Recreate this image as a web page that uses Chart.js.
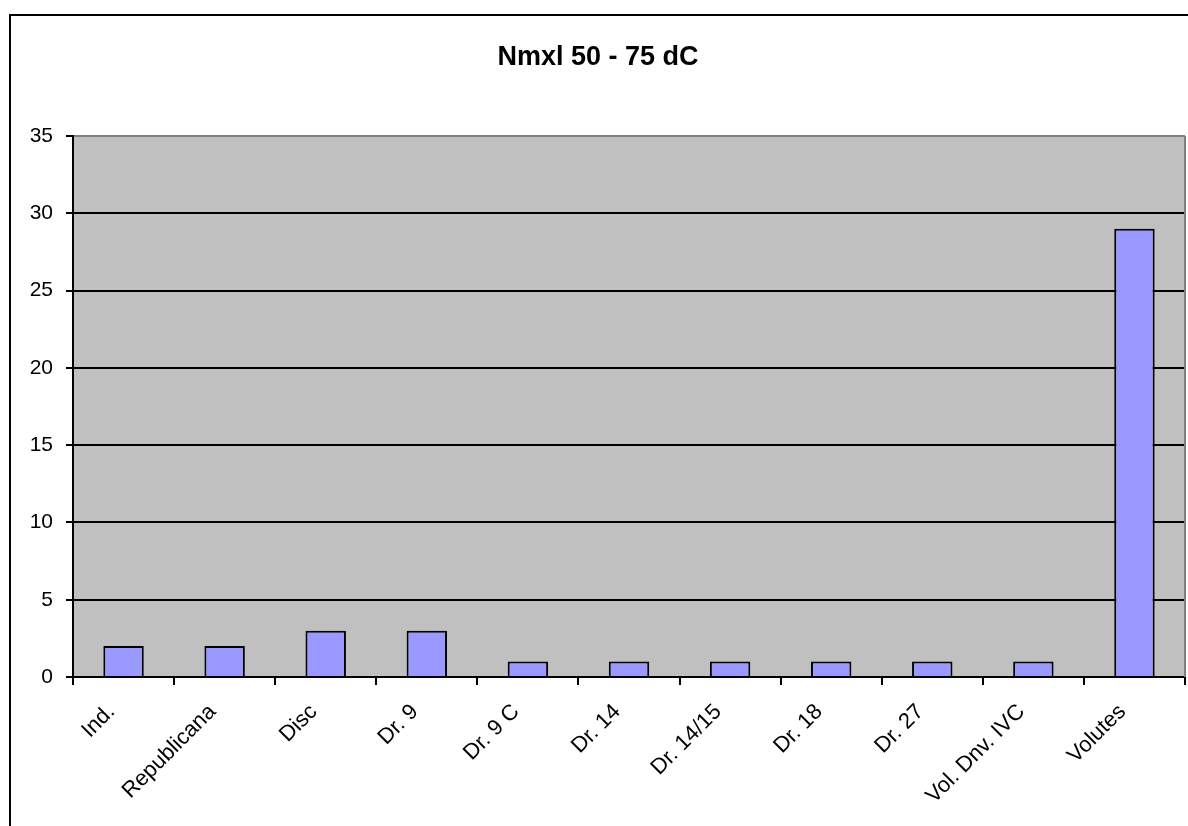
<!DOCTYPE html>
<html>
<head>
<meta charset="utf-8">
<script src="https://cdn.jsdelivr.net/npm/chart.js@4/dist/chart.umd.min.js"></script>
<style>
  html, body { margin: 0; padding: 0; background: #fff; overflow: hidden; }
  #box {
    position: absolute; left: 9px; top: 14px;
    width: 1186px; height: 810px;
    border: 2px solid #000;
  }
</style>
</head>
<body>
<div id="box"><canvas id="myChart" width="1186" height="810"></canvas></div>
<script>
// 資料
const chartTitle = "Nmxl 50 - 75 dC";
const categories = ["Ind.", "Republicana", "Disc", "Dr. 9", "Dr. 9 C", "Dr. 14", "Dr. 14/15", "Dr. 18", "Dr. 27", "Vol. Dnv. IVC", "Volutes"];
const counts = [2, 2, 3, 3, 1, 1, 1, 1, 1, 1, 29];
const yMin = 0;
const yMax = 35;
const yStep = 5;

const fontFamily = "'Liberation Sans', Arial, sans-serif";

// 繪圖區灰色背景 + 右邊框
const plotAreaPlugin = {
  id: "plotArea",
  beforeDraw(chart) {
    const { ctx, chartArea: a } = chart;
    ctx.save();
    ctx.fillStyle = "#c0c0c0";
    ctx.fillRect(a.left, a.top, a.right - a.left, a.bottom - a.top);
    ctx.restore();
  },
  afterDraw(chart) {
    const { ctx, chartArea: a } = chart;
    ctx.save();
    ctx.strokeStyle = "#808080";
    ctx.lineWidth = 2;
    ctx.beginPath();
    ctx.moveTo(a.right, a.top);
    ctx.lineTo(a.right, a.bottom);
    ctx.stroke();
    ctx.restore();
  },
};

const ctx = document.getElementById("myChart").getContext("2d");
new Chart(ctx, {
  type: "bar",
  plugins: [plotAreaPlugin],
  data: {
    labels: categories,
    datasets: [
      {
        data: counts,
        backgroundColor: "#9999ff",
        borderColor: "#000",
        borderWidth: 2,
        barPercentage: 0.4,
        categoryPercentage: 1,
      },
    ],
  },
  options: {
    responsive: false,
    animation: false,
    layout: { padding: { left: 0, right: 12, top: 0, bottom: 0 } },
    plugins: {
      legend: { display: false },
      tooltip: { enabled: false },
      title: {
        display: true,
        text: chartTitle,
        color: "#000",
        font: { family: fontFamily, size: 27, weight: "bold" },
        padding: { top: 25, bottom: 62.6 },
      },
    },
    scales: {
      x: {
        afterFit(scale) { scale.height = 149; },
        grid: {
          offset: true,
          drawOnChartArea: false,
          drawTicks: true,
          tickLength: 8,
          color: "#000",
          lineWidth: 2,
        },
        border: { color: "#000", width: 2 },
        ticks: {
          color: "#000",
          font: { family: fontFamily, size: 22 },
          minRotation: 45,
          maxRotation: 45,
          autoSkip: false,
          padding: 14,
          labelOffset: -12,
        },
      },
      y: {
        min: yMin,
        max: yMax,
        afterFit(scale) { scale.width = 62; },
        grid: {
          color: (c) => (c.tick && c.tick.value === yMax ? "#808080" : "#000"),
          lineWidth: 2,
          tickLength: 7,
          tickColor: "#000",
        },
        border: { color: "#000", width: 2 },
        ticks: {
          stepSize: yStep,
          color: "#000",
          font: { family: fontFamily, size: 21 },
          padding: 13,
        },
      },
    },
  },
});
</script>
</body>
</html>
